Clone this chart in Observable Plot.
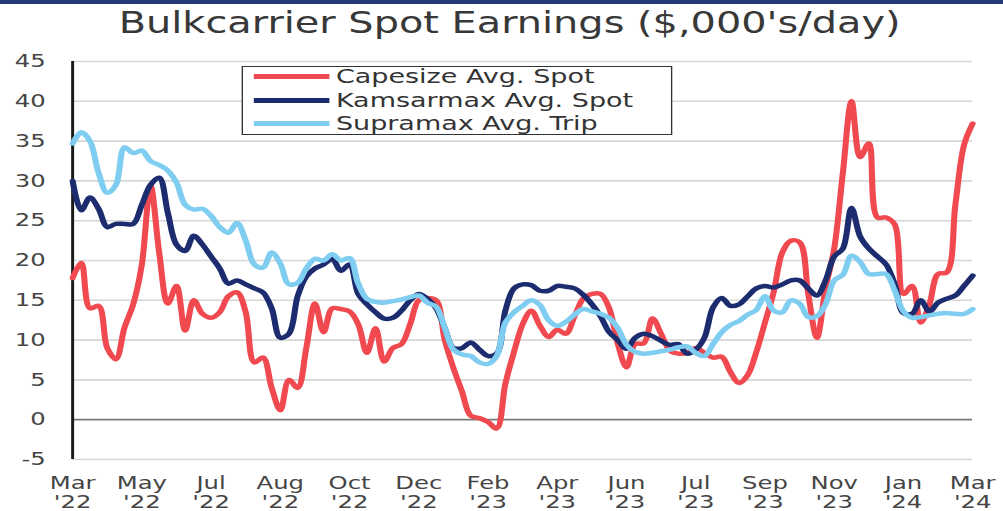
<!DOCTYPE html>
<html>
<head>
<meta charset="utf-8">
<script src="https://cdn.jsdelivr.net/npm/d3@7"></script>
<script src="https://cdn.jsdelivr.net/npm/@observablehq/plot@0.6"></script>
<style>
  html, body { margin: 0; padding: 0; background: #fff; width: 1003px; height: 511px; overflow: hidden; }
  #topbar { position: absolute; left: 0; top: 0; width: 1003px; height: 4px; background: #24397a; }
  #wrap { position: absolute; left: 0; top: 0; width: 743px; transform: scaleX(1.35); transform-origin: 0 0;
          font-family: "DejaVu Sans", sans-serif; }
  #title { height: 48px; line-height: 47px; text-align: center; font-size: 29.5px; color: #383838;
           padding-left: 12px; box-sizing: border-box; white-space: nowrap; }
  #legend { position: absolute; left: 179.3px; top: 66px; width: 318.5px; height: 69px; box-sizing: border-box;
            border: 1.7px solid #333; background: #fff; }
  .row { position: absolute; left: 0; height: 23.5px; display: flex; align-items: center; white-space: nowrap; }
  .sw { margin-left: 8px; width: 55.5px; height: 4.5px; }
  .lab { margin-left: 5px; font-size: 20px; color: #333; }
</style>
</head>
<body>
<div id="topbar"></div>
<div id="wrap">
  <div id="title">Bulkcarrier Spot Earnings ($,000's/day)</div>
  <div id="chart"></div>
  <div id="legend"></div>
</div>
<script>
// ---- data (weekly, Mar '22 .. Mar '24) ----
const seriesNames = ["Capesize Avg. Spot", "Kamsarmax Avg. Spot", "Supramax Avg. Trip"];
const seriesColors = ["#f04a50", "#1c2c6e", "#7fcdf0"];

const capesize = [
  17.8, 19.7, 14, 14.3, 9, 7.6, 11.6, 14.5, 19.5, 29.4,
  21, 14.6, 16.8, 11.2, 15, 13.3, 12.8, 13.5, 15.5, 16,
  13.5, 7.2, 7.8, 4, 1.2, 5, 4, 9, 14.6, 11,
  14, 13.9, 13.6, 12, 8.4, 11.5, 7.3, 9, 9.5, 12,
  15, 15.3, 15, 10, 6.5, 3.5, 0.5, 0.2, -0.3, -1.1,
  4.5, 8.5, 12, 13.7, 11.8, 10.4, 11.3, 10.8, 13, 15.2,
  15.8, 15.8, 14, 9.5, 6.6, 9.5, 9.6, 12.7, 10.8, 8.7,
  8.3, 8.4, 9, 8.4, 7.8, 7.9, 6, 4.6, 5.6, 8.5,
  12.2, 16, 21, 22.5, 22.3, 15.8, 10.3, 16.5, 21.5, 31,
  40, 33, 34.7, 25.4, 25.4, 24.5, 15.8, 16.8, 12.2, 14.5,
  18.3, 18.5, 27, 34.5, 37.2
];
const kamsarmax = [
  30, 26.3, 27.9, 26.5, 24.2, 24.6, 24.6, 24.6, 27, 29.5,
  30.4, 26, 22, 21.2, 23.1, 22, 20.5, 19, 17.1, 17.5,
  17, 16.5, 16, 14, 10.3, 10.8, 15.5, 18, 19, 19.5,
  20.2, 18.7, 19.5, 15.8, 14.5, 13.5, 12.7, 12.8, 13.7, 15,
  15.8, 15.2, 14, 11.5, 9, 9, 9.7, 8.8, 8, 8.3,
  13.7, 16.5, 17, 16.9, 16.2, 16.2, 16.8, 16.7, 16.5, 15.7,
  14.5, 13, 11, 10, 8.9, 10.3, 10.8, 10.5, 9.9, 9.4,
  9.5, 8.3, 8.8, 10.3, 14.1, 15.3, 14.3, 14.5, 15.5, 16.5,
  16.8, 16.6, 17, 17.5, 17.5, 16.5, 15.6, 17.5, 20.5, 21.5,
  26.6, 23, 21.5, 20.5, 19.5, 17, 13.4, 13.3, 15, 13.6,
  14.7, 15.2, 15.6, 16.8, 18.1
];
const supramax = [
  34.7, 36.1, 35, 31, 28.5, 29.5, 34.2, 33.5, 33.8, 32.5,
  32, 31.3, 29.8, 27, 26.4, 26.5, 25.6, 24.2, 23.5, 24.7,
  22.5, 19.5, 19.1, 21, 19.6, 17, 17.2, 19, 20.2, 20,
  20.8, 20, 20.3, 17.1, 15.2, 14.8, 14.7, 14.9, 15.1, 15.4,
  15.6, 14.7, 14.2, 11.5, 8.8, 8.2, 8, 7.2, 7, 8,
  12.2, 13.5, 14.3, 15, 14.4, 12.5, 11.8, 12.3, 13.2, 13.9,
  13.6, 13.3, 12.8, 11.5, 9.4, 8.5, 8.3, 8.4, 8.6, 8.8,
  9.1, 9.2, 8.4, 8, 9.5, 11, 11.9, 12.4, 13.2, 13.8,
  15.5, 13.7, 13.5, 15, 14.6, 12.9, 13, 14.5, 17.5, 18.2,
  20.6, 19.8, 18.3, 18.3, 18.3, 16.2, 13.6, 12.8, 12.9, 13.1,
  13.3, 13.4, 13.3, 13.3, 13.9
];

const tickWeeks = [0, 8, 16, 24, 32, 40, 48, 56, 64, 72, 80, 88, 96, 104];
const tickLabels = ["Mar\n'22", "May\n'22", "Jul\n'22", "Aug\n'22", "Oct\n'22", "Dec\n'22", "Feb\n'23",
                    "Apr\n'23", "Jun\n'23", "Jul\n'23", "Sep\n'23", "Nov\n'23", "Jan\n'24", "Mar\n'24"];
const yTicks = [-5, 0, 5, 10, 15, 20, 25, 30, 35, 40, 45];

// ---- build tables ----
const allSeries = [capesize, kamsarmax, supramax];
const tables = allSeries.map((vals, s) => vals.map((v, i) => ({week: i, value: v, series: seriesNames[s]})));

const chart = Plot.plot({
  width: 743,
  height: 463,
  marginLeft: 53.3,
  marginRight: 23,
  marginTop: 13,
  marginBottom: 52,
  style: {fontFamily: "DejaVu Sans, sans-serif", fontSize: "18px", color: "#454545", background: "white", overflow: "visible"},
  x: {domain: [0, 104]},
  y: {domain: [-5, 45]},
  marks: [
    Plot.ruleY(yTicks.filter(d => d !== 0), {y: d => d, stroke: "#d6d6d6", strokeWidth: 1.6}),
    Plot.ruleY([0], {stroke: "#7a7a7a", strokeWidth: 1.8}),
    Plot.ruleX([0], {stroke: "#1a1a1a", strokeWidth: 2.2}),
    Plot.axisY({ticks: yTicks, tickSize: 0, tickPadding: 20, label: null, fontSize: 18, tickFormat: d => String(d)}),
    Plot.axisX({ticks: tickWeeks, tickSize: 0, tickPadding: 15, label: null, fontSize: 18, lineHeight: 1.1,
                tickFormat: d => tickLabels[tickWeeks.indexOf(d)]}),
    ...tables.map((t, s) => Plot.line(t, {x: "week", y: "value", stroke: seriesColors[s], strokeWidth: 4.5,
                                           curve: "catmull-rom", strokeLinejoin: "round", strokeLinecap: "round"}))
  ]
});
document.getElementById("chart").appendChild(chart);

// ---- legend ----
const legend = document.getElementById("legend");
const rowCenters = [11, 35, 58];
seriesNames.forEach((name, i) => {
  const row = document.createElement("div");
  row.className = "row";
  row.style.top = (rowCenters[i] - 11.75 - 1.7) + "px";
  const sw = document.createElement("div");
  sw.className = "sw";
  sw.style.background = seriesColors[i];
  const lab = document.createElement("div");
  lab.className = "lab";
  lab.textContent = name;
  row.appendChild(sw);
  row.appendChild(lab);
  legend.appendChild(row);
});
</script>
</body>
</html>
